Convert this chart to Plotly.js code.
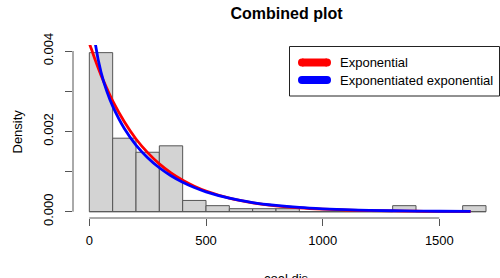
<!DOCTYPE html>
<html>
<head>
<meta charset="utf-8">
<script src="https://cdn.plot.ly/plotly-3.0.1.min.js"></script>
<style>html,body{margin:0;padding:0;background:#fff;}#chart{width:500px;height:278px;}</style>
</head>
<body>
<div id="chart"></div>
<script>
// Histogram of coal.dis (bin starts, width 100) and density heights
var binStarts = [0, 100, 200, 300, 400, 500, 600, 700, 800, 900, 1000, 1100, 1200, 1300, 1400, 1500, 1600];
var binWidth = 100;
var binDensity = [0.00396, 0.00183, 0.00148, 0.00164, 0.00028, 0.00015, 0.000075, 0.000075, 0.000075, 0, 0, 0, 0, 0.00015, 0, 0, 0.00015];

// Exponential fitted density (red)
var expX = [0, 5, 10, 25, 50, 75, 100, 150, 200, 250, 300, 350, 400, 450, 500, 600, 700, 800, 900, 1000, 1100, 1200, 1300, 1400, 1500, 1634];
var expY = [0.00420, 0.00411, 0.00403, 0.00378, 0.00340, 0.00307, 0.00276, 0.00224, 0.00181, 0.00147, 0.00119, 0.000966, 0.000783, 0.000635, 0.000514, 0.000338, 0.000222, 0.000146, 0.0000959, 0.000063, 0.0000414, 0.0000272, 0.0000179, 0.0000117, 0.0000077, 0.0000044];

// Exponentiated exponential fitted density (blue)
var eeX = [3, 5, 10, 25, 50, 75, 100, 150, 200, 250, 300, 350, 400, 450, 500, 600, 700, 800, 900, 1000, 1100, 1200, 1300, 1400, 1500, 1634];
var eeY = [0.00625, 0.00575, 0.00509, 0.00421, 0.003475, 0.002995, 0.002627, 0.00207, 0.00166, 0.001344, 0.001094, 0.000895, 0.000733, 0.000602, 0.000495, 0.000336, 0.000228, 0.000156, 0.000106, 0.0000725, 0.0000496, 0.0000339, 0.0000231, 0.0000158, 0.0000108, 0.0000065];

var xTicks = [0, 500, 1000, 1500];
var xTickText = ['0', '500', '1000', '1500'];
var yTicks = [0, 0.001, 0.002, 0.003, 0.004];
var yTickText = ['0.000', '', '0.002', '', '0.004'];

var seriesNames = ['Exponential', 'Exponentiated exponential'];
var seriesColors = ['#FF0000', '#0000FF'];

var FONT = 'Liberation Sans, Arial, Helvetica, sans-serif';
var AX = '#555555';
var FS = 13;

var lastEdge = binStarts[binStarts.length - 1] + binWidth;

var traces = [
  { type: 'scatter', mode: 'lines', x: [binStarts[0], lastEdge], y: [0, 0],
    line: { color: AX, width: 1 }, hoverinfo: 'skip', showlegend: false },
  { type: 'bar', x: binStarts, y: binDensity, width: binWidth, offset: 0,
    marker: { color: '#D3D3D3', line: { color: AX, width: 1 } }, showlegend: false },
  { type: 'scatter', mode: 'lines', x: expX, y: expY, name: seriesNames[0],
    line: { color: seriesColors[0], width: 2.8, shape: 'spline', smoothing: 1 }, showlegend: false },
  { type: 'scatter', mode: 'lines', x: eeX, y: eeY, name: seriesNames[1],
    line: { color: seriesColors[1], width: 2.8, shape: 'spline', smoothing: 1 }, showlegend: false }
];

// custom R-style legend
var W = 500, H = 278, ML = 73, MR = 0, MT = 45, MB = 60;
var PW = W - ML - MR, PH = H - MT - MB;
function px(xp) { return (xp - ML) / PW; }
function py(yp) { return (H - MB - yp) / PH; }

var shapes = [
  { type: 'line', xref: 'x', yref: 'paper', x0: xTicks[0], x1: xTicks[xTicks.length - 1], y0: 0, y1: 0,
    line: { color: AX, width: 1 } },
  { type: 'line', xref: 'paper', yref: 'y', x0: 0, x1: 0, y0: yTicks[0], y1: yTicks[yTicks.length - 1],
    line: { color: AX, width: 1 } },
  { type: 'rect', xref: 'paper', yref: 'paper', x0: px(289.5), x1: px(499.5), y0: py(96), y1: py(46.5),
    line: { color: '#222222', width: 1 }, fillcolor: 'rgba(255,255,255,1)' }
];
var legendY = [62.5, 80];
var annotations = [];
for (var i = 0; i < seriesNames.length; i++) {
  shapes.push({ type: 'line', xref: 'paper', yref: 'paper', x0: px(302), x1: px(327), y0: py(legendY[i]), y1: py(legendY[i]),
    line: { color: seriesColors[i], width: 8 } });
  [302, 327].forEach(function (cx) {
    shapes.push({ type: 'circle', xref: 'paper', yref: 'paper', xsizemode: 'pixel', ysizemode: 'pixel',
      xanchor: px(cx), yanchor: py(legendY[i]), x0: -4, x1: 4, y0: -4, y1: 4,
      fillcolor: seriesColors[i], line: { width: 0 } });
  });
  annotations.push({ xref: 'paper', yref: 'paper', x: px(338), y: py(legendY[i]), xanchor: 'left', yanchor: 'middle',
    text: seriesNames[i], showarrow: false, font: { family: FONT, size: FS, color: '#000' } });
}
annotations.push({ xref: 'paper', yref: 'paper', x: 0, y: 0.5, xshift: -56, xanchor: 'center', yanchor: 'middle',
  text: 'Density', textangle: -90, showarrow: false, font: { family: FONT, size: FS, color: '#000' } });
annotations.push({ xref: 'paper', yref: 'paper', x: 0.5, y: 0, yshift: -51, xanchor: 'center', yanchor: 'top',
  text: 'coal.dis', showarrow: false, font: { family: FONT, size: FS, color: '#000' } });

var layout = {
  width: W, height: H,
  margin: { l: ML, r: MR, t: MT, b: MB, pad: 0 },
  paper_bgcolor: '#fff', plot_bgcolor: '#fff',
  font: { family: FONT, size: FS, color: '#000' },
  title: { text: '<b>Combined plot</b>', font: { family: FONT, size: 16, color: '#000' },
    x: 0.5, xref: 'paper', xanchor: 'center', y: 1 - 13 / H, yref: 'container', yanchor: 'middle' },
  xaxis: { range: [-70, 1760], showgrid: false, zeroline: false, showline: false,
    tickmode: 'array', tickvals: xTicks, ticktext: xTickText, ticks: 'outside', ticklen: 7,
    tickcolor: AX, tickwidth: 1, ticklabelstandoff: 3, tickfont: { family: FONT, size: FS, color: '#000' } },
  yaxis: { range: [-0.000157, 0.00415], showgrid: false, zeroline: false, showline: false,
    tickmode: 'array', tickvals: yTicks, ticktext: yTickText, ticks: 'outside', ticklen: 7,
    tickcolor: AX, tickwidth: 1, tickangle: -90, ticklabelstandoff: 7, tickfont: { family: FONT, size: FS, color: '#000' } },
  shapes: shapes,
  annotations: annotations,
  showlegend: false,
  bargap: 0
};

Plotly.newPlot('chart', traces, layout, { staticPlot: true, displayModeBar: false });
</script>
</body>
</html>
